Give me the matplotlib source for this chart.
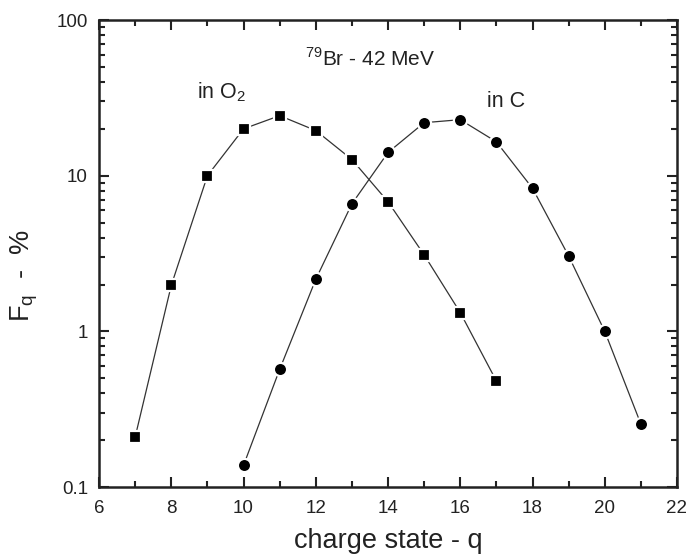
import matplotlib.pyplot as plt
from matplotlib.ticker import LogLocator, MultipleLocator, FixedLocator, FixedFormatter

plt.rcParams['font.family'] = ['Liberation Sans', 'DejaVu Sans']

# data
q_o2 = [7, 8, 9, 10, 11, 12, 13, 14, 15, 16, 17]
f_o2 = [0.21, 1.98, 10.0, 20.0, 24.3, 19.5, 12.7, 6.8, 3.1, 1.32, 0.48]

q_c = [10, 11, 12, 13, 14, 15, 16, 17, 18, 19, 20, 21]
f_c = [0.138, 0.57, 2.16, 6.6, 14.1, 21.9, 22.9, 16.5, 8.3, 3.05, 1.0, 0.254]

y_ticks = [0.1, 1, 10, 100]
y_tick_labels = ["0.1", "1", "10", "100"]

fig = plt.figure(figsize=(6.88, 5.56), dpi=100)
ax = fig.add_axes([0.144, 0.124, 0.840, 0.840])

ax.plot(q_o2, f_o2, color="#333333", lw=0.9, marker="s", ms=8,
        mfc="black", mec="white", mew=1.6)
ax.plot(q_c, f_c, color="#333333", lw=0.9, marker="o", ms=9.5,
        mfc="black", mec="white", mew=1.6)

ax.set_yscale("log")
ax.set_xlim(6, 22)
ax.set_ylim(0.1, 100)

ax.xaxis.set_major_locator(MultipleLocator(2))
ax.xaxis.set_minor_locator(MultipleLocator(1))
ax.yaxis.set_major_locator(FixedLocator(y_ticks))
ax.yaxis.set_major_formatter(FixedFormatter(y_tick_labels))
ax.yaxis.set_minor_locator(LogLocator(base=10, subs=range(2, 10)))
ax.yaxis.set_minor_formatter(FixedFormatter([]))

ax.tick_params(which="both", direction="in", top=True, right=True, width=1.5,
               labelsize=13.5, colors="#222222")
ax.tick_params(which="major", length=7)
ax.tick_params(which="minor", length=4)
ax.tick_params(axis="y", pad=8)
ax.tick_params(axis="x", pad=9)
for s in ax.spines.values():
    s.set_linewidth(1.8)
    s.set_color("#222222")

ax.set_xlabel("charge state - q", fontsize=19.5, color="#222222", labelpad=8)
fig.text(0.036, 0.505, "F$_\\mathregular{q}$  -  %", fontsize=19.5, color="#222222",
         rotation=90, ha="center", va="center")

ax.text(13.5, 51, "$^{\\mathregular{79}}$Br - 42 MeV", fontsize=15, ha="center",
        va="baseline", color="#222222")
ax.text(8.7, 31.5, "in O$_\\mathregular{2}$", fontsize=15.5, va="baseline", color="#222222")
ax.text(16.75, 27.5, "in C", fontsize=15.5, va="baseline", color="#222222")

fig.savefig("out.png", dpi=100, facecolor="white")
